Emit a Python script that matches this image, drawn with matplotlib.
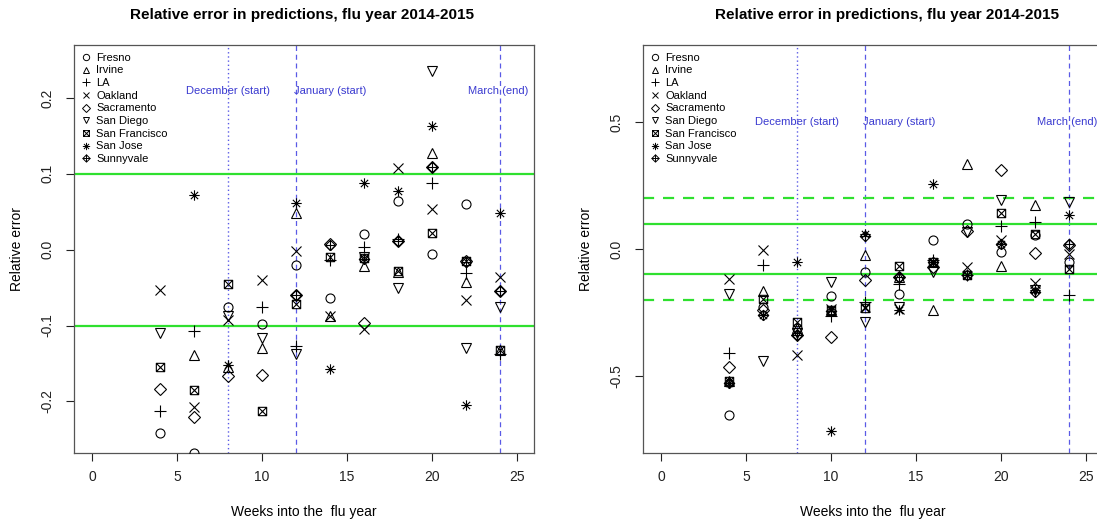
import numpy as np
import matplotlib
matplotlib.use("Agg")
import matplotlib.pyplot as plt
from matplotlib.path import Path

plt.rcParams['font.family'] = ['Liberation Sans', 'DejaVu Sans']

nan = np.nan

weeks = [4, 6, 8, 10, 12, 14, 16, 18, 20, 22, 24]
cities = ["Fresno", "Irvine", "LA", "Oakland", "Sacramento", "San Diego",
          "San Francisco", "San Jose", "Sunnyvale"]

# left panel
fresno_a = [-0.241, -0.268, -0.076, -0.098, -0.020, -0.064, 0.021, 0.064, -0.006, 0.060, nan]
irvine_a = [nan, -0.139, -0.155, -0.130, 0.049, -0.087, -0.022, -0.029, 0.128, -0.042, -0.132]
la_a = [-0.212, -0.107, nan, -0.076, -0.127, -0.013, 0.003, 0.014, 0.088, -0.030, -0.137]
oakland_a = [-0.053, -0.208, -0.093, -0.040, -0.001, -0.087, -0.104, 0.108, 0.054, -0.066, -0.036]
sacramento_a = [-0.184, -0.221, -0.167, -0.165, -0.060, 0.007, -0.096, 0.011, 0.109, -0.015, -0.054]
sandiego_a = [-0.110, nan, -0.088, -0.117, -0.138, nan, -0.010, -0.051, 0.236, -0.129, -0.075]
sanfran_a = [-0.154, -0.185, -0.045, -0.213, -0.071, -0.009, -0.011, -0.028, 0.022, -0.015, -0.132]
sanjose_a = [nan, 0.072, -0.152, nan, 0.062, -0.157, 0.088, 0.078, 0.163, -0.205, 0.049]
sunnyvale_a = [nan, nan, nan, nan, -0.059, 0.006, -0.012, 0.011, 0.109, -0.016, -0.054]

# right panel
fresno_b = [-0.656, -0.230, -0.312, -0.186, -0.091, -0.178, 0.035, 0.100, -0.013, 0.055, -0.052]
irvine_b = [-0.520, -0.165, -0.312, -0.240, -0.025, -0.110, -0.241, 0.335, -0.069, 0.175, nan]
la_b = [-0.410, -0.065, -0.339, -0.265, -0.209, -0.139, -0.045, -0.104, 0.092, 0.105, -0.182]
oakland_b = [-0.120, -0.002, -0.420, -0.235, -0.230, -0.235, -0.055, -0.073, 0.036, -0.135, -0.018]
sacramento_b = [-0.465, -0.240, -0.339, -0.347, -0.124, -0.110, -0.071, 0.070, 0.312, -0.014, 0.014]
sandiego_b = [-0.178, -0.440, -0.330, -0.130, -0.287, -0.230, -0.091, 0.066, 0.194, -0.163, 0.184]
sanfran_b = [-0.520, -0.198, -0.287, -0.240, -0.233, -0.069, -0.052, -0.104, 0.143, 0.060, -0.077]
sanjose_b = [-0.530, -0.261, -0.053, -0.718, 0.061, -0.240, 0.258, -0.104, 0.018, -0.163, 0.135]
sunnyvale_b = [-0.530, -0.261, -0.339, -0.245, 0.050, -0.110, -0.052, -0.104, 0.018, -0.170, 0.020]

month_weeks = [8, 12, 24]
month_labels = ["December (start)", "January (start)", "March (end)"]
month_label_x = [8, 14, 23.9]

title = "Relative error in predictions, flu year 2014-2015"

# R style point symbols (pch 1..9)
M, L = Path.MOVETO, Path.LINETO
sq_x = Path([(-1, -1), (1, -1), (1, 1), (-1, 1), (-1, -1), (-1, -1), (1, 1), (-1, 1), (1, -1)],
            [M, L, L, L, L, M, L, M, L])
star8 = Path([(-1, 0), (1, 0), (0, -1), (0, 1), (-0.7, -0.7), (0.7, 0.7), (-0.7, 0.7), (0.7, -0.7)],
             [M, L, M, L, M, L, M, L])
dia_plus = Path([(0, -1), (1, 0), (0, 1), (-1, 0), (0, -1), (-1, 0), (1, 0), (0, -1), (0, 1)],
                [M, L, L, L, L, M, L, M, L])
markers = ['o', '^', '+', 'x', 'D', 'v', sq_x, star8, dia_plus]
sizes = [6.5, 7, 8, 6.5, 6, 7, 6, 7.5, 7.5]

data_a = [fresno_a, irvine_a, la_a, oakland_a, sacramento_a, sandiego_a, sanfran_a, sanjose_a, sunnyvale_a]
data_b = [fresno_b, irvine_b, la_b, oakland_b, sacramento_b, sandiego_b, sanfran_b, sanjose_b, sunnyvale_b]

fig = plt.figure(figsize=(10.97, 5.25), dpi=100)
W, H = 1097.0, 525.0
ax1 = fig.add_axes([74 / W, 1 - 453 / H, 460 / W, 408 / H])
ax2 = fig.add_axes([643 / W, 1 - 453 / H, 460 / W, 408 / H])

vcol = '#5a5ae6'
tcol = '#3a3ad0'
gcol = '#2fe02f'


def panel(ax, data, ylim, yticks, ylabels, text_y, dashed):
    for k in range(len(cities)):
        ax.plot(weeks, data[k], ls='none', marker=markers[k], ms=sizes[k], mfc='none',
                mec='black', mew=0.8, color='black', label=cities[k], zorder=3)
    ax.axvline(month_weeks[0], color=vcol, lw=1.0, ls=(0, (1, 2)))
    for w in month_weeks[1:]:
        ax.axvline(w, color=vcol, lw=0.9, ls=(0, (4, 3)))
    for x, lab in zip(month_label_x, month_labels):
        ax.text(x, text_y, lab, color=tcol, fontsize=8, ha='center', va='center')
    ax.axhline(0.1, color=gcol, lw=1.6)
    ax.axhline(-0.1, color=gcol, lw=1.6)
    if dashed:
        ax.axhline(0.2, color=gcol, lw=1.6, ls=(0, (5, 4)))
        ax.axhline(-0.2, color=gcol, lw=1.6, ls=(0, (5, 4)))
    ax.set_xlim(-1.06, 26.0)
    ax.set_ylim(*ylim)
    ax.set_xticks([0, 5, 10, 15, 20, 25])
    ax.set_yticks(yticks)
    ax.set_yticklabels(ylabels, rotation=90, va='center')
    ax.tick_params(direction='out', length=6, width=0.8, labelsize=10, colors='#222222')
    ax.tick_params(axis='x', pad=6)
    ax.tick_params(axis='y', pad=8)
    for s in ax.spines.values():
        s.set_color('#555555')
        s.set_linewidth(0.9)
    ax.set_xlabel("Weeks into the  flu year", fontsize=10)
    ax.set_ylabel("Relative error", fontsize=10)
    ax.xaxis.set_label_coords(0.5, -0.127)
    ax.yaxis.set_label_coords(-0.109, 0.5)
    leg = ax.legend(loc='upper left', frameon=False, fontsize=8, markerscale=0.7,
                    handlelength=0.8, handletextpad=0.5, labelspacing=0.24,
                    borderaxespad=0.2, borderpad=0.5)
    for h in leg.legend_handles:
        h.set_markeredgewidth(0.7)


panel(ax1, data_a, (-0.268, 0.27), [-0.2, -0.1, 0.0, 0.1, 0.2],
      ["-0.2", "-0.1", "0.0", "0.1", "0.2"], 0.21, False)
panel(ax2, data_b, (-0.805, 0.805), [-0.5, 0.0, 0.5],
      ["-0.5", "0.0", "0.5"], 0.5, True)

fig.text(302 / W, 1 - 15 / H, title, fontsize=11, fontweight='bold', ha='center', va='center')
fig.text(887 / W, 1 - 15 / H, title, fontsize=11, fontweight='bold', ha='center', va='center')

fig.savefig("out.png", dpi=100, facecolor='white')
